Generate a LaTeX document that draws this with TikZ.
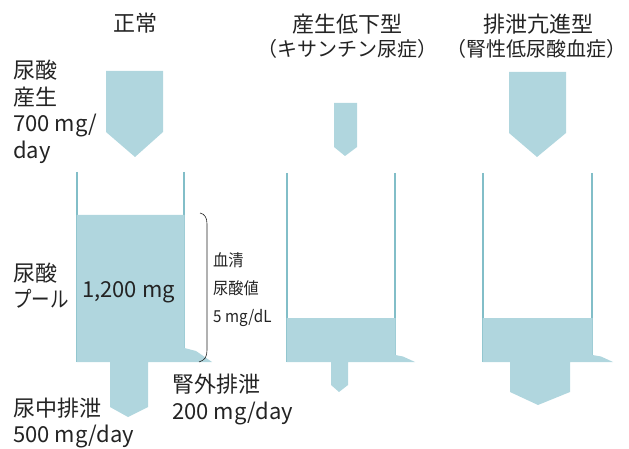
\documentclass[tikz,border=0pt]{standalone}
\usepackage{fontspec}
\setmainfont{Noto Sans CJK JP}
\newfontfamily\smallcjk[FakeStretch=0.92]{Noto Sans CJK JP}
\definecolor{liq}{RGB}{176,214,222}
\definecolor{wall}{RGB}{130,190,200}
\definecolor{ink}{RGB}{35,35,35}
\begin{document}
\begin{tikzpicture}[x=1pt,y=-1pt,
  liquid/.style={fill=liq,draw=none},
  wallline/.style={draw=wall,line width=1.1pt},
  big/.style={font=\fontsize{22}{26}\selectfont,text=ink,inner sep=0pt},
  paren/.style={font=\fontsize{20}{24}\selectfont,text=ink,inner sep=0pt},
  small/.style={font=\smallcjk\fontsize{16.5}{19}\selectfont,text=ink,inner sep=0pt}]
\useasboundingbox (0,0) rectangle (629,449);
% titles
\node[big,anchor=base] (t1) at (135,32) {正常};
\node[big,anchor=base] (t2) at (347,33) {産生低下型};
\node[paren,anchor=base] (t2b) at (347,57) {（キサンチン尿症）};
\node[big,anchor=base] (t3) at (538,33) {排泄亢進型};
\node[paren,anchor=base] (t3b) at (536,57) {（腎性低尿酸血症）};
% walls
\draw[wallline] (77,172) coordinate (w1a) -- (77,362);
\draw[wallline] (184,172) coordinate (w1b) -- (184,350);
\draw[wallline] (287,173) coordinate (w2a) -- (287,362);
\draw[wallline] (395,173) coordinate (w2b) -- (395,356);
\draw[wallline] (483,173) coordinate (w3a) -- (483,362);
\draw[wallline] (592,173) coordinate (w3b) -- (592,356);
% inputs
\fill[liq] (106,71) -- (163,71) -- (163,132) -- (135,157) -- (106,132) -- cycle;
\fill[liq] (334,103) -- (357,103) -- (357,147) -- (345,156) -- (334,147) -- cycle;
\fill[liq] (509,72) -- (566,72) -- (566,133) -- (537,157) -- (509,133) -- cycle;
% pools with outflows
\fill[liq] (76.5,215) -- (184.5,215) -- (184.5,348) -- (196,351) -- (212,362) -- (148,362)
  -- (148,407) -- (128,417) -- (110,407) -- (110,362) -- (76.5,362) -- cycle;
\fill[liq] (286.5,318) -- (395.5,318) -- (395.5,355) -- (403,356.5) -- (415,362) -- (348,362)
  -- (348,385) -- (339,392) -- (331,385) -- (331,362) -- (286.5,362) -- cycle;
\fill[liq] (482.5,318) -- (592.5,318) -- (592.5,355) -- (601,356.5) -- (613,362) -- (570,362)
  -- (570,392) -- (538,405) -- (510,392) -- (510,362) -- (482.5,362) -- cycle;
% brace
\draw[ink,line width=0.6pt] (200,213) .. controls (205,214) and (207,218) .. (207,224)
  -- (207,350) .. controls (207,357) and (205,360) .. (199,362);
% left labels
\node[big,anchor=base west] (l1) at (13,78.5) {尿酸};
\node[big,anchor=base west] (l2) at (13,106) {産生};
\node[big,anchor=base west] (l3) at (13,132) {700 mg/};
\node[big,anchor=base west] (l4) at (13,159) {day};
\node[big,anchor=base west] (p1) at (13,281) {尿酸};
\node[big,anchor=base west] (p2) at (13,307) {\scalebox{0.84}[1]{プール}};
\node[big,anchor=base west] (amt) at (82,297) {1,200 mg};
\node[small,anchor=base west] (s1) at (213,266) {血清};
\node[small,anchor=base west] (s2) at (213,294) {尿酸値};
\node[small,anchor=base west] (s3) at (213,322) {5 mg/dL};
\node[big,anchor=base west] (e1) at (172,392) {腎外排泄};
\node[big,anchor=base west] (e2) at (172,419) {200 mg/day};
\node[big,anchor=base west] (u1) at (13,416) {尿中排泄};
\node[big,anchor=base west] (u2) at (13,442) {500 mg/day};
\end{tikzpicture}
\end{document}
